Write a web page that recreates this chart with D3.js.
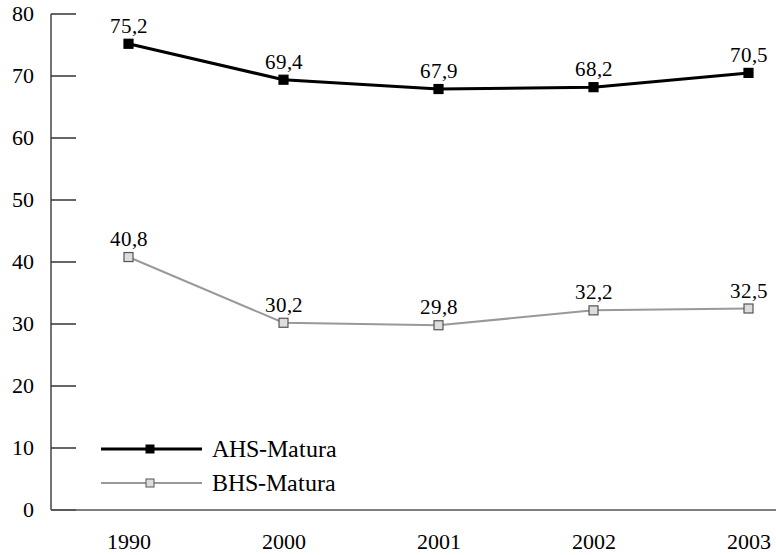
<!DOCTYPE html>
<html>
<head>
<meta charset="utf-8">
<script src="https://cdn.jsdelivr.net/npm/d3@7"></script>
<style>
  @font-face { font-family: "ChartSerif"; src: local("Liberation Serif"), local("LiberationSerif"), local("Times New Roman"); }
  body { margin: 0; }
</style>
</head>
<body>
<svg width="776" height="555"></svg>
<script>
const years = ["1990", "2000", "2001", "2002", "2003"];
const ahs = [75.2, 69.4, 67.9, 68.2, 70.5];
const bhs = [40.8, 30.2, 29.8, 32.2, 32.5];
const yTicks = [0, 10, 20, 30, 40, 50, 60, 70, 80];

const series = [
  {name: "AHS-Matura", values: ahs, stroke: "#000", width: 3, fill: "#000", mStroke: "#000"},
  {name: "BHS-Matura", values: bhs, stroke: "#999", width: 2, fill: "#ddd", mStroke: "#555"}
];

const FONT = "ChartSerif, 'Liberation Serif', serif";

var svg = d3.select("svg");

// plot runs past the right edge of the window, as in the picture
var x = d3.scaleBand().domain(years).range([51, 826]);
var y = d3.scaleLinear().domain([0, 80]).range([510, 14]);
var cx = d => x(d) + x.bandwidth() / 2;

// y axis
svg.append("line")
  .attr("x1", 51).attr("x2", 51)
  .attr("y1", y(80)).attr("y2", y(0))
  .attr("stroke", "#444").attr("stroke-width", 1.5);

svg.selectAll(".ytick")
  .data(yTicks)
  .enter()
  .append("line")
  .attr("x1", 51).attr("x2", 76)
  .attr("y1", d => y(d)).attr("y2", d => y(d))
  .attr("stroke", "#333").attr("stroke-width", 1.5);

svg.selectAll(".ylab")
  .data(yTicks)
  .enter()
  .append("text")
  .attr("x", 34)
  .attr("y", d => y(d) + 7)
  .attr("text-anchor", "end")
  .attr("font-size", 22)
  .style("font-family", FONT)
  .text(d => d);

// x axis
svg.append("line")
  .attr("x1", 51).attr("x2", 776)
  .attr("y1", y(0)).attr("y2", y(0))
  .attr("stroke", "#555").attr("stroke-width", 1.5);

svg.selectAll(".xlab")
  .data(years)
  .enter()
  .append("text")
  .attr("x", d => cx(d))
  .attr("y", 549)
  .attr("text-anchor", "middle")
  .attr("font-size", 22)
  .style("font-family", FONT)
  .text(d => d);

var line = d3.line()
  .x((d, i) => cx(years[i]))
  .y(d => y(d));

series.forEach(s => {
  svg.append("path")
    .attr("d", line(s.values))
    .attr("fill", "none")
    .attr("stroke", s.stroke)
    .attr("stroke-width", s.width);

  svg.selectAll(null)
    .data(s.values)
    .enter()
    .append("rect")
    .attr("x", (d, i) => cx(years[i]) - 4.5)
    .attr("y", d => y(d) - 4.5)
    .attr("width", 9).attr("height", 9)
    .attr("fill", s.fill)
    .attr("stroke", s.mStroke)
    .attr("stroke-width", 1.2);

  svg.selectAll(null)
    .data(s.values)
    .enter()
    .append("text")
    .attr("x", (d, i) => cx(years[i]))
    .attr("y", d => y(d) - 11)
    .attr("text-anchor", "middle")
    .attr("font-size", 21)
    .style("font-family", FONT)
    .text(d => d.toFixed(1).replace(".", ","));
});

// legend
var legend = svg.selectAll(".legend")
  .data(series)
  .enter()
  .append("g")
  .attr("transform", (d, i) => `translate(101,${449 + i * 34})`);

legend.append("line")
  .attr("x1", 0).attr("x2", 101)
  .attr("stroke", d => d.stroke)
  .attr("stroke-width", d => d.width);

legend.append("rect")
  .attr("x", 45).attr("y", -4)
  .attr("width", 8).attr("height", 8)
  .attr("fill", d => d.fill)
  .attr("stroke", d => d.mStroke)
  .attr("stroke-width", 1);

legend.append("text")
  .attr("x", 111)
  .attr("y", 8)
  .attr("font-size", 23.5)
  .style("font-family", FONT)
  .text(d => d.name);
</script>
</body>
</html>
